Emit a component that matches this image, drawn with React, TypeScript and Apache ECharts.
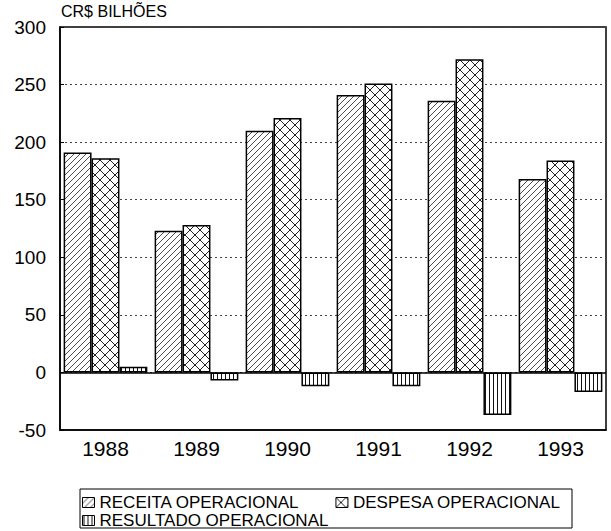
import React, { useEffect, useRef } from "react";
import * as echarts from "echarts";

const years = ["1988", "1989", "1990", "1991", "1992", "1993"];
const receita = [191, 123, 210, 241, 236, 168];
const despesa = [186, 128, 221, 251, 272, 184];
const resultado = [5, -7, -12, -12, -37, -17];
const seriesNames = ["RECEITA OPERACIONAL", "DESPESA OPERACIONAL", "RESULTADO OPERACIONAL"];
const yTicks = { min: -50, max: 300, interval: 50 };

const svgUrl = (w: number, h: number, body: string) =>
  "data:image/svg+xml;charset=utf-8," +
  encodeURIComponent(
    `<svg xmlns='http://www.w3.org/2000/svg' width='${w}' height='${h}'><rect width='${w}' height='${h}' fill='white'/>${body}</svg>`
  );

const diagPattern = {
  image: svgUrl(6, 6, "<path d='M-1 7L7 -1M-1 1L1 -1M5 7L7 5' stroke='#3a3a3a' stroke-width='0.9'/>"),
  repeat: "repeat",
  imageWidth: 6,
  imageHeight: 6,
};
const crossPattern = {
  image: svgUrl(10, 10, "<path d='M0 0L10 10M10 0L0 10' stroke='#222' stroke-width='1'/>"),
  repeat: "repeat",
  imageWidth: 10,
  imageHeight: 10,
};
const vertPattern = {
  image: svgUrl(4, 4, "<path d='M1.5 0V4' stroke='#111' stroke-width='1'/>"),
  repeat: "repeat",
  imageWidth: 4,
  imageHeight: 4,
};

const FONT = "'Liberation Sans', Arial, sans-serif";

export default function App() {
  const ref = useRef<HTMLDivElement>(null);
  useEffect(() => {
    if (!ref.current) return;
    const chart = echarts.init(ref.current, null, { renderer: "svg" });
    const barStyle = (color: any) => ({ color, borderColor: "#000", borderWidth: 1.5 });
    const legendCommon = {
      icon: "rect",
      itemWidth: 12,
      itemHeight: 10,
      itemGap: 36,
      padding: 0,
      textStyle: { fontSize: 17, color: "#000", fontFamily: FONT },
      itemStyle: { borderColor: "#000", borderWidth: 1 },
    };
    chart.setOption({
      animation: false,
      textStyle: { fontFamily: FONT },
      title: {
        text: "CR$ BILHÕES",
        left: 61,
        top: 3,
        padding: 0,
        textStyle: { fontSize: 16, fontWeight: "normal", color: "#000", fontFamily: FONT },
      },
      grid: {
        left: 60,
        right: 5,
        top: 27,
        bottom: 101,
        show: true,
        borderColor: "#000",
        borderWidth: 1.5,
      },
      legend: [
        { ...legendCommon, data: [seriesNames[0], seriesNames[1]], left: 82, top: 494 },
        { ...legendCommon, data: [seriesNames[2]], left: 82, top: 512 },
      ],
      graphic: [
        {
          type: "rect",
          shape: { x: 80, y: 489, width: 492, height: 39 },
          style: { fill: "none", stroke: "#000", lineWidth: 1 },
        },
      ],
      xAxis: {
        type: "category",
        data: years,
        axisLine: { onZero: false, lineStyle: { color: "#000", width: 1.5 } },
        axisTick: { alignWithLabel: true, inside: true, length: 5, lineStyle: { color: "#000" } },
        axisLabel: { fontSize: 21, color: "#000", margin: 8, fontFamily: FONT },
      },
      yAxis: {
        type: "value",
        min: yTicks.min,
        max: yTicks.max,
        interval: yTicks.interval,
        axisLine: { show: true, lineStyle: { color: "#000", width: 1.5 } },
        axisTick: { show: true, inside: true, length: 4, lineStyle: { color: "#000" } },
        axisLabel: { fontSize: 19, color: "#000", margin: 14, fontFamily: FONT },
        splitLine: { show: true, lineStyle: { color: "#444", type: [2, 3], width: 1 } },
      },
      series: [
        {
          name: seriesNames[0],
          type: "bar",
          data: receita,
          barGap: "0%",
          barCategoryGap: "8%",
          itemStyle: barStyle(diagPattern),
          markLine: {
            silent: true,
            symbol: ["none", "none"],
            label: { show: false },
            lineStyle: { color: "#000", type: "solid", width: 1.5 },
            data: [{ yAxis: 0 }],
          },
        },
        {
          name: seriesNames[1],
          type: "bar",
          data: despesa,
          barGap: "0%",
          barCategoryGap: "8%",
          itemStyle: barStyle(crossPattern),
        },
        {
          name: seriesNames[2],
          type: "bar",
          data: resultado,
          barGap: "0%",
          barCategoryGap: "8%",
          itemStyle: barStyle(vertPattern),
        },
      ],
    });
    return () => chart.dispose();
  }, []);
  return (
    <div
      ref={ref}
      style={{ position: "absolute", left: 0, top: 0, width: 611, height: 531 }}
    />
  );
}
